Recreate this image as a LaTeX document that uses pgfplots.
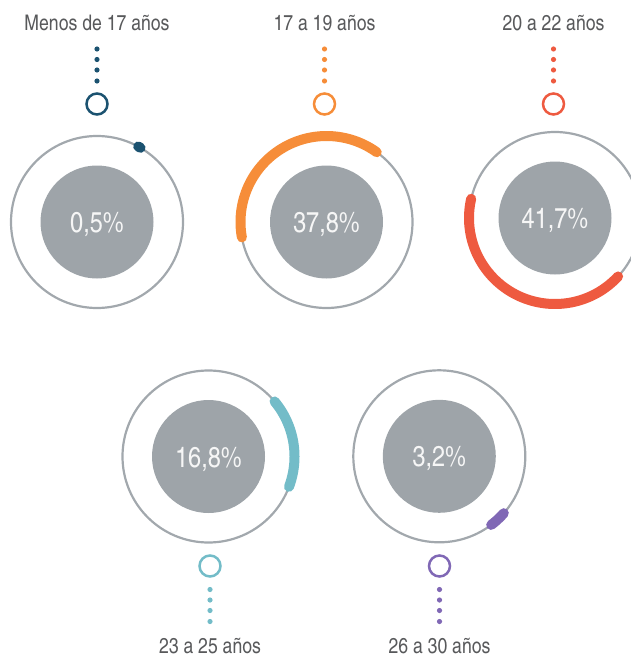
\documentclass[border=0pt]{standalone}
\usepackage{pgfplots}
\pgfplotsset{compat=1.18}
\usepackage{fontspec}
\setmainfont{texgyreheroscn-regular.otf}
\definecolor{cnavy}{RGB}{27,82,112}
\definecolor{corange}{RGB}{246,141,57}
\definecolor{cred}{RGB}{238,90,64}
\definecolor{cteal}{RGB}{115,188,200}
\definecolor{cpurple}{RGB}{128,104,181}
\definecolor{ringgray}{RGB}{162,168,173}
\definecolor{diskgray}{RGB}{158,164,169}
\definecolor{labgray}{RGB}{88,89,91}
\definecolor{pcttext}{RGB}{246,246,246}

% ring + disk: cx, cy
\newcommand{\ringdisk}[2]{%
  \draw[ringgray, line width=2.2bp] (axis cs:#1,#2) circle[radius=86bp];
  \fill[diskgray] (axis cs:#1,#2) circle[radius=56.5bp];
}
% value arc: cx, cy, start angle (clockwise from top), percent, colour
\newcommand{\valarc}[5]{%
  \addplot[#5, line width=10bp, line cap=round, no marks, samples=80,
    domain={#3}:{#3+3.6*#4}] ({#1+86*sin(x)},{#2-86*cos(x)});
}
% percent text: cx, cy, text
\newcommand{\pcttxt}[3]{%
  \node[anchor=base, text=pcttext, inner sep=0pt, font=\fontsize{28.7bp}{30bp}\selectfont] at (axis cs:#1,#2+10.5) {#3};
}
% upper marker: x, colour, label
\newcommand{\uppermarker}[3]{%
  \draw[#2, line width=2.5bp] (axis cs:#1,104) circle[radius=10.5bp];
  \fill[#2] (axis cs:#1,49) circle[radius=2.6bp];
  \fill[#2] (axis cs:#1,59.5) circle[radius=2.6bp];
  \fill[#2] (axis cs:#1,70) circle[radius=2.6bp];
  \fill[#2] (axis cs:#1,81) circle[radius=2.6bp];
  \node[anchor=base, text=labgray, inner sep=0pt, font=\fontsize{21.5bp}{24bp}\selectfont] at (axis cs:#1,31) {#3};
}
% lower marker: x, colour, label
\newcommand{\lowermarker}[3]{%
  \draw[#2, line width=2.5bp] (axis cs:#1,566) circle[radius=10.5bp];
  \fill[#2] (axis cs:#1,589.5) circle[radius=2.6bp];
  \fill[#2] (axis cs:#1,600) circle[radius=2.6bp];
  \fill[#2] (axis cs:#1,610.5) circle[radius=2.6bp];
  \fill[#2] (axis cs:#1,621.5) circle[radius=2.6bp];
  \node[anchor=base, text=labgray, inner sep=0pt, font=\fontsize{21.5bp}{24bp}\selectfont] at (axis cs:#1,653) {#3};
}

\begin{document}
\begin{tikzpicture}
\begin{axis}[name=ax, width=631bp, height=656bp, scale only axis,
  xmin=0, xmax=631, ymin=0, ymax=656, y dir=reverse, hide axis, clip=true]

% gauges
\ringdisk{97}{222}
\ringdisk{326.5}{222}
\ringdisk{555}{218}
\ringdisk{208.5}{456.5}
\ringdisk{439.3}{456.3}

% values (percent of 360 degrees)
\valarc{97}{222}{28.6}{0.5}{cnavy}
\valarc{326.5}{222}{-100.3}{37.8}{corange}
\valarc{555}{218}{132.8}{41.7}{cred}
\valarc{208.5}{456.5}{50.2}{16.8}{cteal}
\valarc{439.3}{456.3}{131.4}{3.2}{cpurple}

\pcttxt{97}{222}{0,5\%}
\pcttxt{326.5}{222}{37,8\%}
\pcttxt{555}{218}{41,7\%}
\pcttxt{208.5}{456.5}{16,8\%}
\pcttxt{439.3}{456.3}{3,2\%}

\uppermarker{97}{cnavy}{Menos de 17 años}
\uppermarker{324.5}{corange}{17 a 19 años}
\uppermarker{553.5}{cred}{20 a 22 años}
\lowermarker{210}{cteal}{23 a 25 años}
\lowermarker{439.5}{cpurple}{26 a 30 años}
\end{axis}
\pgfresetboundingbox
\path (ax.south west) rectangle (ax.north east);
\end{tikzpicture}
\end{document}
